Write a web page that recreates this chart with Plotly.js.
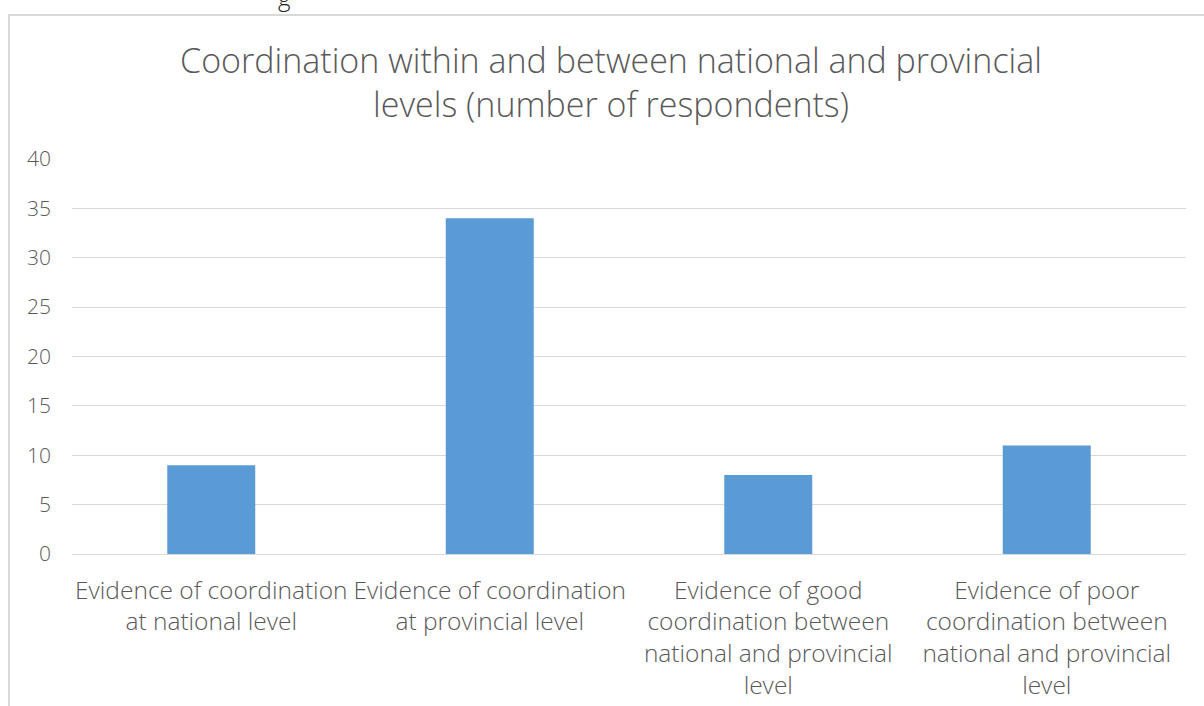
<!DOCTYPE html>
<html>
<head>
<meta charset="utf-8">
<script src="https://cdn.plot.ly/plotly-3.0.1.min.js"></script>
<style>html,body{margin:0;padding:0;background:#fff;overflow:hidden}#chart{width:1204px;height:706px}</style>
</head>
<body>
<div id="chart"></div>
<script>
const categories = [
  "Evidence of coordination<br>at national level",
  "Evidence of coordination<br>at provincial level",
  "Evidence of good<br>coordination between<br>national and provincial<br>level",
  "Evidence of poor<br>coordination between<br>national and provincial<br>level"
];
const respondents = [9, 34, 8, 11];
const yTicks = [0, 5, 10, 15, 20, 25, 30, 35, 40];
const titleText = "Coordination within and between national and provincial<br>levels (number of respondents)";

const FONT = "'Open Sans', 'Noto Sans', sans-serif";

const trace = {
  type: "bar",
  x: categories,
  y: respondents,
  marker: {color: "#5b9bd5"},
  hoverinfo: "x+y"
};

const L = 72, R = 18, T = 159, B = 152, W = 1204, H = 706;
const pw = W - L - R, ph = H - T - B;
const px = v => (v - L) / pw;
const py = v => (H - B - v) / ph;

const layout = {
  width: W, height: H,
  margin: {l: L, r: R, t: T, b: B, pad: 0},
  paper_bgcolor: "#fff", plot_bgcolor: "#fff",
  font: {family: FONT, color: "#595959", weight: 300},
  title: {
    text: titleText,
    font: {size: 34, color: "#595959", family: FONT, weight: 300},
    x: 611 / W, xref: "container", xanchor: "center",
    y: 1 - 73 / H, yref: "container", yanchor: "middle"
  },
  bargap: 0.684,
  showlegend: false,
  xaxis: {
    type: "category",
    showgrid: false, zeroline: false, showline: false,
    ticks: "", tickfont: {size: 24.5, color: "#595959", family: FONT, weight: 300},
    ticklabelstandoff: 19,
    fixedrange: true
  },
  yaxis: {
    range: [0, 40],
    tickvals: yTicks,
    ticktext: yTicks.map(String),
    showgrid: true, gridcolor: "#d9d9d9", gridwidth: 1.3,
    zeroline: true, zerolinecolor: "#d9d9d9", zerolinewidth: 1.3,
    showline: false, ticks: "",
    tickfont: {size: 21, color: "#595959", family: FONT, weight: 300},
    ticklabelstandoff: 20,
    fixedrange: true
  },
  shapes: [{
    type: "rect", xref: "paper", yref: "paper",
    x0: px(9), x1: px(1300), y0: py(800), y1: py(15),
    line: {color: "#d9d9d9", width: 2}, fillcolor: "rgba(0,0,0,0)", layer: "below"
  }],
  annotations: [{
    text: "g", xref: "paper", yref: "paper",
    x: px(284), y: py(-4), xanchor: "center", yanchor: "middle",
    showarrow: false, font: {size: 24, color: "#222", family: FONT}
  }]
};

Plotly.newPlot("chart", [trace], layout, {displayModeBar: false});
</script>
</body>
</html>
